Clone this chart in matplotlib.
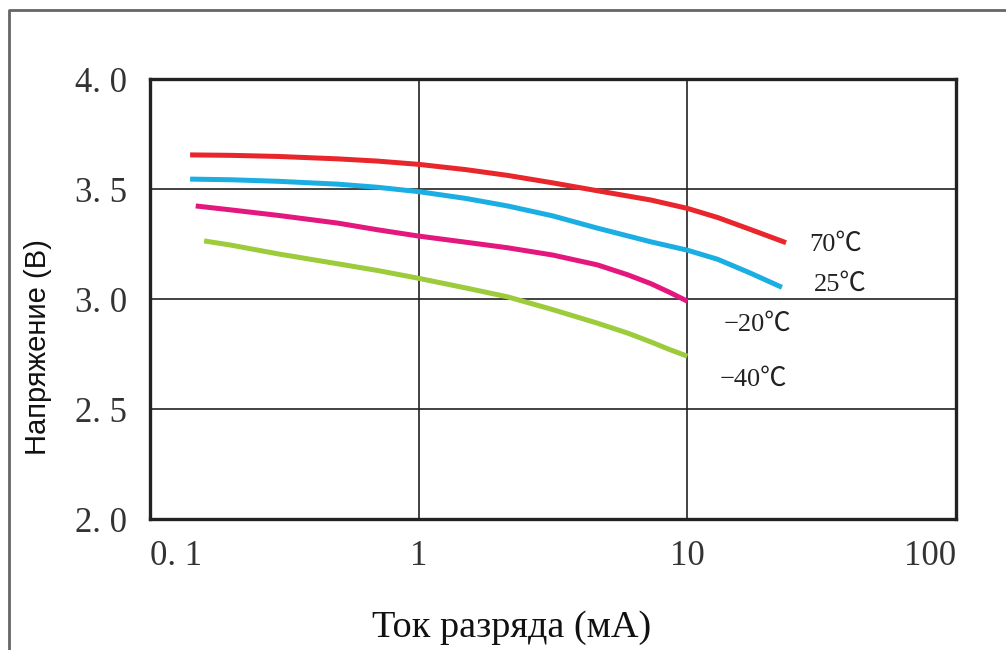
import matplotlib
matplotlib.use("Agg")
import matplotlib.pyplot as plt
from matplotlib.lines import Line2D

# discharge current (mA) and voltage (V)
i_70 = [0.141, 0.2, 0.3, 0.5, 0.7, 1.0, 1.5, 2.14, 3.15, 4.63, 7.31, 10.0, 13.0, 17.0, 23.3]
v_70 = [3.655, 3.653, 3.648, 3.637, 3.627, 3.612, 3.588, 3.562, 3.528, 3.492, 3.45, 3.412, 3.37, 3.318, 3.256]

i_25 = [0.141, 0.2, 0.3, 0.5, 0.7, 1.0, 1.5, 2.14, 3.15, 4.63, 7.31, 10.0, 13.0, 17.0, 22.5]
v_25 = [3.545, 3.542, 3.535, 3.522, 3.508, 3.488, 3.457, 3.423, 3.378, 3.322, 3.26, 3.222, 3.18, 3.12, 3.053]

i_m20 = [0.148, 0.2, 0.3, 0.5, 0.7, 1.0, 1.5, 2.14, 3.15, 4.63, 6.0, 7.31, 8.6, 10.0]
v_m20 = [3.423, 3.405, 3.38, 3.345, 3.315, 3.286, 3.258, 3.233, 3.2, 3.155, 3.11, 3.07, 3.03, 2.99]

i_m40 = [0.159, 0.2, 0.3, 0.5, 0.7, 1.0, 1.5, 2.14, 3.15, 4.63, 6.0, 7.31, 8.6, 10.0]
v_m40 = [3.264, 3.245, 3.205, 3.16, 3.13, 3.094, 3.05, 3.01, 2.952, 2.89, 2.845, 2.805, 2.77, 2.74]

x_ticks = [0.1, 1, 10, 100]
x_labels = ["0. 1", "1", "10", "100"]
y_ticks = [2.0, 2.5, 3.0, 3.5, 4.0]
y_labels = ["2. 0", "2. 5", "3. 0", "3. 5", "4. 0"]

serif = ["Liberation Serif", "Noto Sans CJK SC"]

fig = plt.figure(figsize=(10.06, 6.5), dpi=100)
ax = fig.add_axes([150 / 1006, 131 / 650, 806 / 1006, 440 / 650])

ax.plot(i_70, v_70, color="#e8262c", lw=3.6, solid_capstyle="butt")
ax.plot(i_25, v_25, color="#1aaee3", lw=3.6, solid_capstyle="butt")
ax.plot(i_m20, v_m20, color="#e4177f", lw=3.6, solid_capstyle="butt")
ax.plot(i_m40, v_m40, color="#9ccb3b", lw=3.6, solid_capstyle="butt")

ax.set_xscale("log")
ax.set_xlim(0.1, 100)
ax.set_ylim(2.0, 4.0)
ax.set_xticks(x_ticks)
ax.set_xticklabels(x_labels)
ax.minorticks_off()
ax.set_yticks(y_ticks)
ax.set_yticklabels(y_labels)
ax.tick_params(length=0, labelsize=25, labelcolor="#333333")
ax.tick_params(axis="y", pad=16.5)
ax.tick_params(axis="x", pad=15)
for lab in ax.get_xticklabels() + ax.get_yticklabels():
    lab.set_fontfamily(serif)
xl = ax.get_xticklabels()
xl[0].set_horizontalalignment("left")
xl[-1].set_horizontalalignment("right")

ax.grid(True, color="#222222", lw=1.2)
ax.set_axisbelow(True)
for sp in ax.spines.values():
    sp.set_linewidth(2.4)
    sp.set_color("#222222")

ax.text(28.4, 3.245, "70℃", fontsize=19, family=serif, va="center", color="#222222")
ax.text(29.7, 3.064, "25℃", fontsize=19, family=serif, va="center", color="#222222")
ax.text(13.7, 2.882, "−20℃", fontsize=19, family=serif, va="center", color="#222222")
ax.text(13.2, 2.632, "−40℃", fontsize=19, family=serif, va="center", color="#222222")

fig.text(512 / 1006, 1 - 628 / 650, "Ток разряда (мА)", fontsize=27.5, family="Liberation Serif",
         ha="center", va="center", color="#111111")
fig.text(38 / 1006, 1 - 347 / 650, "Напряжение (В)", fontsize=21, family="Liberation Sans",
         rotation=90, ha="center", va="center", color="#111111")

# thin frame around the picture (left and top edges)
fig.add_artist(Line2D([9 / 1006, 9 / 1006, 1.0], [0.0, 1 - 10 / 650, 1 - 10 / 650],
                      transform=fig.transFigure, color="#666666", lw=2))

fig.savefig("out.png", dpi=100)
